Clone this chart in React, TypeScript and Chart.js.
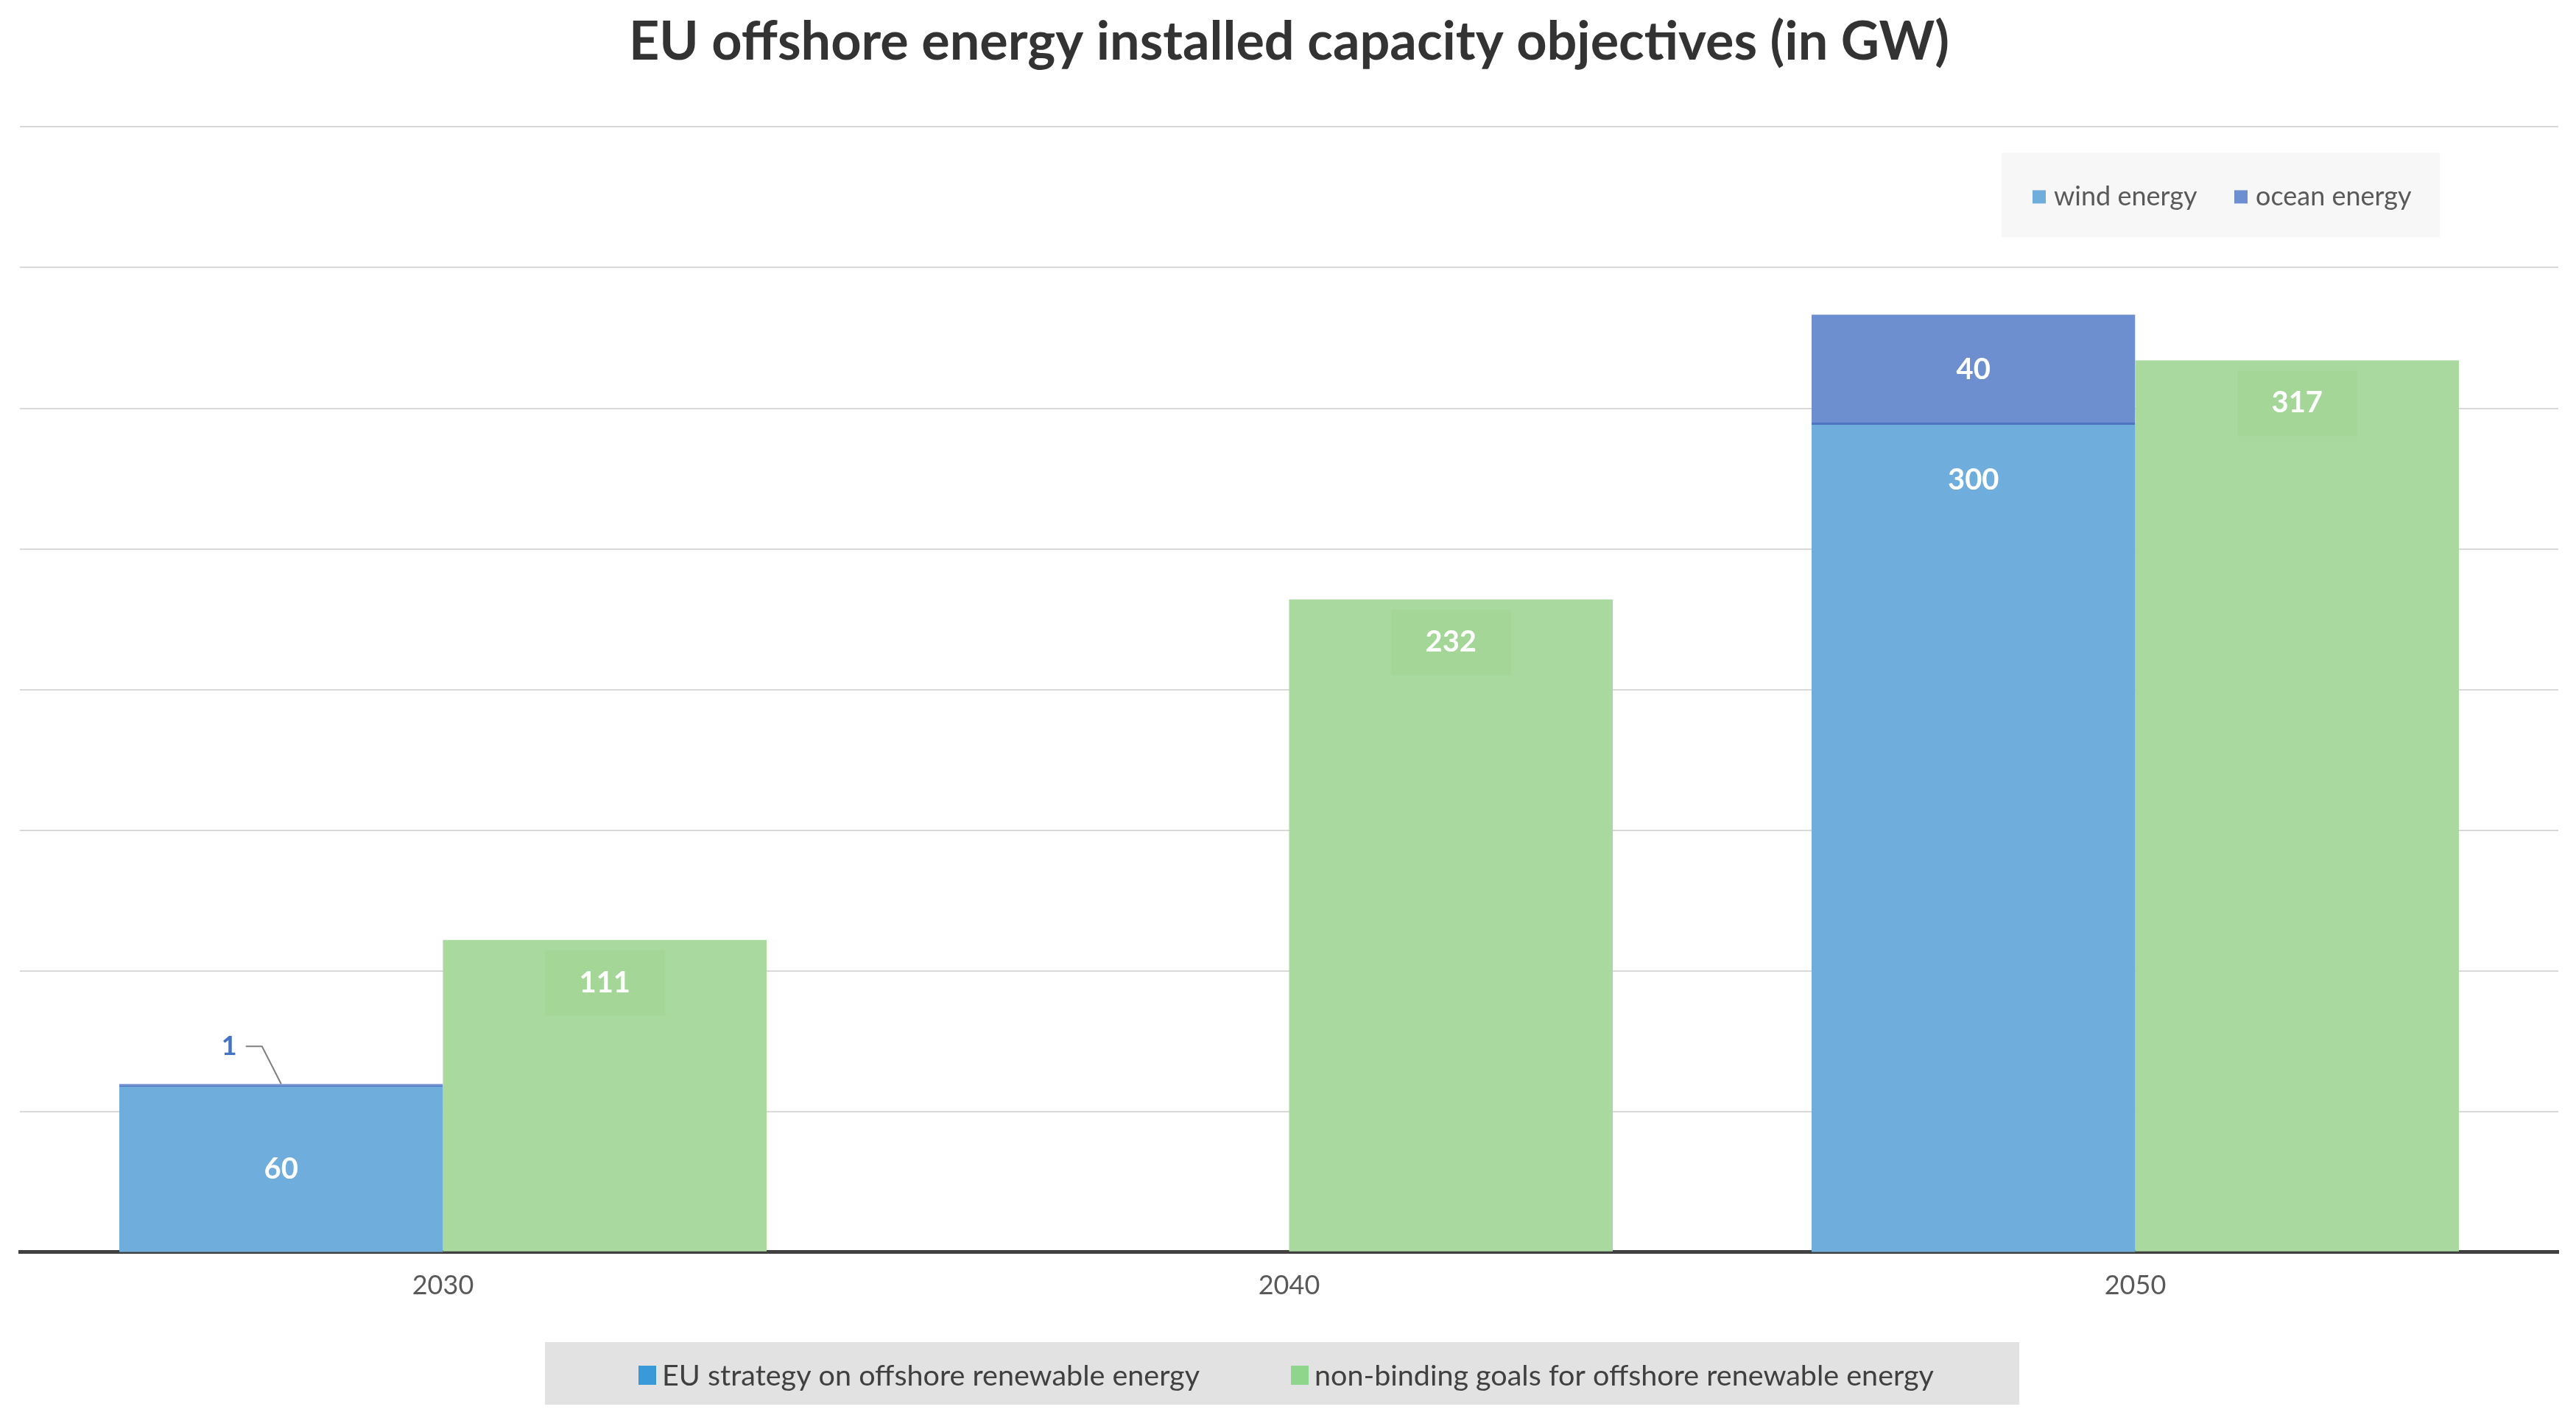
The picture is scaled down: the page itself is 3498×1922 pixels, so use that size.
import { useEffect, useRef } from "react";
import { Chart, registerables, type ChartOptions, type Plugin } from "chart.js";

Chart.register(...registerables);

// data
const categories = ["2030", "2040", "2050"];
const windEnergy = [60, null, 300];
const oceanEnergy = [1, null, 40];
const nonBindingGoals = [111, 232, 317];

const yMax = 400;
const yStep = 50;
// the EU-strategy stack sits on its own (slightly stretched) axis in the original
const euAxisMax = 408;

const WIND = "#6eaddc";
const OCEAN = "#6e8fcf";
const GREEN = "#a9d99e";
const FONT = "Lato, 'Open Sans', sans-serif";

const barLabels: Plugin<"bar"> = {
  id: "barLabels",
  afterDraw(chart) {
    const { ctx } = chart;
    ctx.save();
    ctx.textAlign = "center";
    ctx.textBaseline = "middle";
    chart.data.datasets.forEach((ds, i) => {
      const meta = chart.getDatasetMeta(i);
      meta.data.forEach((bar, j) => {
        const v = ds.data[j] as number | null;
        if (v == null) return;
        const { x, y, base } = bar.getProps(["x", "y", "base"], true) as any;
        const h = base - y;
        ctx.font = `bold 40px ${FONT}`;
        if (ds.stack === "goal") {
          const cy = y + 58;
          ctx.fillStyle = "rgba(120,195,105,0.12)";
          ctx.fillRect(x - 81, cy - 44, 163, 89);
          ctx.fillStyle = "#ffffff";
          ctx.fillText(String(v), x, cy);
        } else if (ds.label === "wind energy") {
          ctx.fillStyle = "#ffffff";
          ctx.fillText(String(v), x, y + (h < 300 ? h / 2 : 75));
        } else if (h > 60) {
          ctx.fillStyle = "#ffffff";
          ctx.fillText(String(v), x, y + h / 2);
        } else {
          // small slice: label outside with a leader line
          ctx.strokeStyle = "#7f7f7f";
          ctx.lineWidth = 2;
          ctx.beginPath();
          ctx.moveTo(x - 48, y - 51);
          ctx.lineTo(x - 26, y - 51);
          ctx.lineTo(x, y);
          ctx.stroke();
          ctx.font = `bold 36px ${FONT}`;
          ctx.fillStyle = "#4472c4";
          ctx.textAlign = "right";
          ctx.fillText(String(v), x - 60, y - 51);
          ctx.textAlign = "center";
        }
      });
    });
    ctx.restore();
  },
};

const legends: Plugin<"bar"> = {
  id: "legends",
  afterDraw(chart) {
    const { ctx, chartArea } = chart;
    ctx.save();
    ctx.textAlign = "left";
    ctx.textBaseline = "middle";

    // top-right legend (wind / ocean)
    const bx = chartArea.right - 756;
    const by = chartArea.top + 35;
    ctx.fillStyle = "#f7f7f7";
    ctx.fillRect(bx, by, 595, 115);
    ctx.font = `36px ${FONT}`;
    const topItems = [
      { text: "wind energy", color: WIND, x: bx + 42 },
      { text: "ocean energy", color: OCEAN, x: bx + 316 },
    ];
    topItems.forEach((it) => {
      ctx.fillStyle = it.color;
      ctx.fillRect(it.x, by + 51, 18, 18);
      ctx.fillStyle = "#595959";
      ctx.fillText(it.text, it.x + 29, by + 60);
    });

    // bottom legend
    const lx = 740;
    const ly = chart.height - 99;
    ctx.fillStyle = "#e2e2e2";
    ctx.fillRect(lx, ly, 2002, 85);
    ctx.font = `39.5px ${FONT}`;
    const bottomItems = [
      { text: "EU strategy on offshore renewable energy", color: "#3a9ad9", x: lx + 127 },
      { text: "non-binding goals for offshore renewable energy", color: "#8fd68c", x: lx + 1013 },
    ];
    bottomItems.forEach((it) => {
      ctx.fillStyle = it.color;
      ctx.fillRect(it.x, ly + 32, 24, 26);
      ctx.fillStyle = "#404040";
      ctx.fillText(it.text, it.x + 32, ly + 46);
    });
    ctx.restore();
  },
};

export default function App() {
  const canvasRef = useRef<HTMLCanvasElement>(null);
  const chartRef = useRef<Chart<"bar"> | null>(null);

  useEffect(() => {
    document.body.style.margin = "0";
    if (!canvasRef.current) return;

    const options: ChartOptions<"bar"> = {
      responsive: true,
      maintainAspectRatio: false,
      animation: false,
      layout: { padding: { left: 27, right: 24, top: 0, bottom: 130 } },
      plugins: {
        title: {
          display: true,
          text: "EU offshore energy installed capacity objectives (in GW)",
          color: "#333333",
          font: { family: FONT, size: 72, weight: "bold" },
          padding: { top: 15, bottom: 71 },
        },
        legend: { display: false },
        tooltip: { enabled: false },
      },
      scales: {
        x: {
          z: 1,
          grid: { display: false, drawTicks: false },
          border: { display: true, color: "#404040", width: 5 },
          ticks: { color: "#595959", font: { family: FONT, size: 36 }, padding: 24 },
        },
        y: {
          z: 1,
          stacked: true,
          min: 0,
          max: yMax,
          ticks: { display: false, stepSize: yStep },
          grid: { color: "rgba(0,0,0,0.15)", lineWidth: 2, drawTicks: false },
          border: { display: false },
        },
        y2: {
          display: false,
          stacked: true,
          min: 0,
          max: euAxisMax,
        },
      },
    };

    chartRef.current = new Chart(canvasRef.current, {
      type: "bar",
      data: {
        labels: categories,
        datasets: [
          {
            label: "wind energy",
            data: windEnergy,
            backgroundColor: WIND,
            yAxisID: "y2",
            stack: "eu",
            categoryPercentage: 0.765,
            barPercentage: 1,
          },
          {
            label: "ocean energy",
            data: oceanEnergy,
            backgroundColor: OCEAN,
            borderColor: "#4e74c2",
            borderWidth: { top: 0, right: 0, left: 0, bottom: 3 },
            borderSkipped: false,
            yAxisID: "y2",
            stack: "eu",
            categoryPercentage: 0.765,
            barPercentage: 1,
          },
          {
            label: "non-binding goals for offshore renewable energy",
            data: nonBindingGoals,
            backgroundColor: GREEN,
            yAxisID: "y",
            stack: "goal",
            categoryPercentage: 0.765,
            barPercentage: 1,
          },
        ],
      },
      options,
      plugins: [barLabels, legends],
    });

    return () => {
      chartRef.current?.destroy();
    };
  }, []);

  return (
    <div style={{ position: "relative", width: 3498, height: 1922 }}>
      <canvas ref={canvasRef} />
    </div>
  );
}
